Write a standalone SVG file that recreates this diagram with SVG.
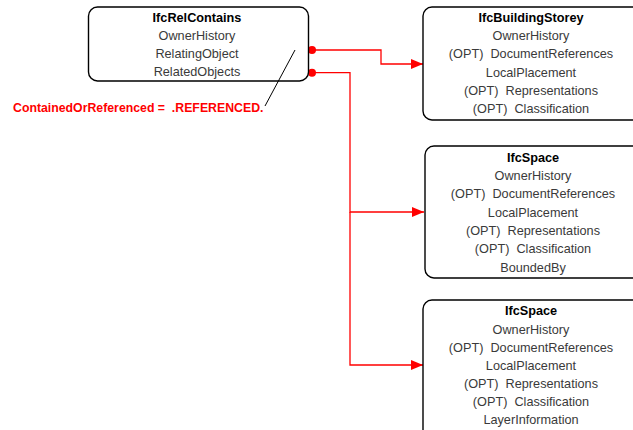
<svg xmlns="http://www.w3.org/2000/svg" width="633" height="430" viewBox="0 0 633 430">
<style>
text{white-space:pre}
.box{fill:#fff;stroke:#000;stroke-width:1.4}
.t{font-family:"Liberation Sans",Arial,sans-serif;font-size:12.7px;text-anchor:middle;fill:#3a3a3a}
.h{font-weight:bold;fill:#000}
.c{fill:none;stroke:#f00;stroke-width:1.3}
.d{fill:#f00}
.lbl{font-family:"Liberation Sans",Arial,sans-serif;font-size:12.3px;font-weight:bold;fill:#f00}
</style>
<defs>
<marker id="ar" viewBox="0 0 12 10" refX="12" refY="5" markerWidth="12" markerHeight="10" markerUnits="userSpaceOnUse" orient="auto">
<path d="M0,0 L12,5 L0,10 Z" fill="#f00"/>
</marker>
</defs>
<g id="connectors">
<path class="c" d="M312,50 H381 V64 H423" marker-end="url(#ar)"/>
<path class="c" d="M312,72.7 H350 V212 H424" marker-end="url(#ar)"/>
<path class="c" d="M350,212 V365 H423" marker-end="url(#ar)"/>
<circle class="d" cx="312" cy="50" r="4"/>
<circle class="d" cx="312" cy="72.7" r="4"/>
</g>
<g id="IfcRelContains">
<rect class="box" x="88.5" y="7" width="220" height="74" rx="9"/>
<text class="t h" x="197" y="21.5">IfcRelContains</text>
<text class="t" x="197" y="39.8">OwnerHistory</text>
<text class="t" x="197" y="58.1">RelatingObject</text>
<text class="t" x="197" y="76.4">RelatedObjects</text>
</g>
<g id="annotation">
<line x1="295" y1="50" x2="265" y2="106" stroke="#000" stroke-width="1"/>
<text class="lbl" x="13" y="111.7">ContainedOrReferenced =  .REFERENCED.</text>
</g>
<g id="IfcBuildingStorey">
<rect class="box" x="423" y="7" width="220" height="113" rx="9"/>
<text class="t h" x="531" y="21.7">IfcBuildingStorey</text>
<text class="t" x="531" y="40">OwnerHistory</text>
<text class="t" x="531" y="58.3">(OPT)  DocumentReferences</text>
<text class="t" x="531" y="76.6">LocalPlacement</text>
<text class="t" x="531" y="94.9">(OPT)  Representations</text>
<text class="t" x="531" y="113.2">(OPT)  Classification</text>
</g>
<g id="IfcSpace1">
<rect class="box" x="425" y="146" width="220" height="132" rx="9"/>
<text class="t h" x="533" y="161.7">IfcSpace</text>
<text class="t" x="533" y="180">OwnerHistory</text>
<text class="t" x="533" y="198.3">(OPT)  DocumentReferences</text>
<text class="t" x="533" y="216.6">LocalPlacement</text>
<text class="t" x="533" y="234.9">(OPT)  Representations</text>
<text class="t" x="533" y="253.2">(OPT)  Classification</text>
<text class="t" x="533" y="271.5">BoundedBy</text>
</g>
<g id="IfcSpace2">
<rect class="box" x="423" y="300" width="220" height="140" rx="9"/>
<text class="t h" x="531" y="315.3">IfcSpace</text>
<text class="t" x="531" y="333.5">OwnerHistory</text>
<text class="t" x="531" y="351.6">(OPT)  DocumentReferences</text>
<text class="t" x="531" y="369.8">LocalPlacement</text>
<text class="t" x="531" y="387.9">(OPT)  Representations</text>
<text class="t" x="531" y="406.1">(OPT)  Classification</text>
<text class="t" x="531" y="424.2">LayerInformation</text>
</g>
</svg>
